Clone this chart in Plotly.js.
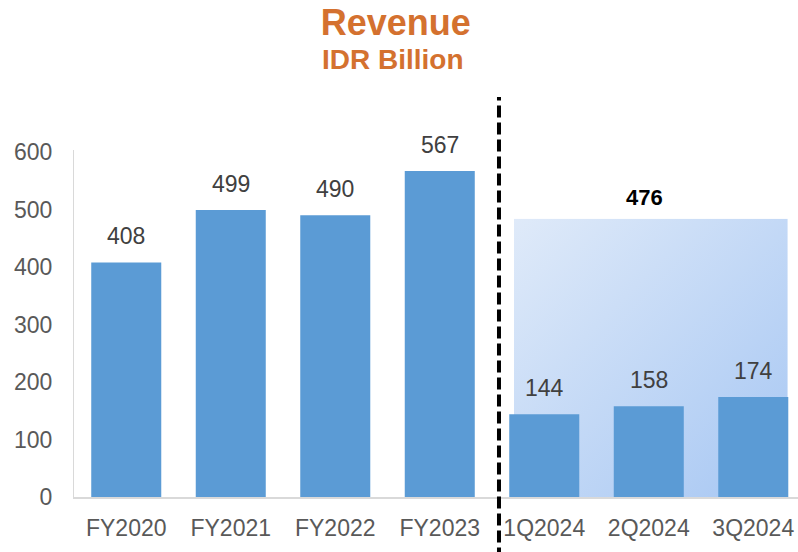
<!DOCTYPE html>
<html>
<head>
<meta charset="utf-8">
<script src="https://cdn.plot.ly/plotly-3.0.1.min.js"></script>
<style>html,body{margin:0;padding:0;background:#fff;}#chart{width:798px;height:552px;}</style>
</head>
<body>
<div id="chart"></div>
<script>
// ---- data ----
const categories = ['FY2020', 'FY2021', 'FY2022', 'FY2023', '1Q2024', '2Q2024', '3Q2024'];
const revenue = [408, 499, 490, 567, 144, 158, 174];
const yTicks = [0, 100, 200, 300, 400, 500, 600];
const quarterCats = ['1Q2024', '2Q2024', '3Q2024'];
const titleText = 'Revenue';
const subtitleText = 'IDR Billion';

// ---- derived ----
const FONT = 'Liberation Sans, Arial, sans-serif';
const xIdx = categories.map((c, i) => i);
const qIdx = quarterCats.map(c => categories.indexOf(c));
const qTotal = qIdx.reduce((s, i) => s + revenue[i], 0);
const qStart = Math.min(...qIdx), qEnd = Math.max(...qIdx);
const boxTop = qTotal + 8;

const svg = '<svg xmlns="http://www.w3.org/2000/svg" width="100" height="100" viewBox="0 0 100 100" preserveAspectRatio="none">' +
  '<defs><linearGradient id="g" x1="0" y1="0" x2="1" y2="1">' +
  '<stop offset="0" stop-color="#dfeaf9"/><stop offset="1" stop-color="#a7c7f3"/>' +
  '</linearGradient></defs><rect width="100" height="100" fill="url(#g)"/></svg>';
const svgSrc = 'data:image/svg+xml;charset=utf-8,' + encodeURIComponent(svg);

const bars = {
  type: 'bar',
  x: xIdx,
  y: revenue,
  width: 0.67,
  marker: { color: '#5B9BD5' },
  hoverinfo: 'skip'
};

const annotations = xIdx.map(i => ({
  x: i, y: revenue[i], xref: 'x', yref: 'y',
  text: String(revenue[i]), showarrow: false,
  yanchor: 'bottom', yshift: 11,
  font: { family: FONT, size: 23, color: '#404040' }
}));
annotations.push({
  x: qIdx[1], y: boxTop, xref: 'x', yref: 'y',
  text: '<b>' + qTotal + '</b>', showarrow: false,
  yanchor: 'bottom', yshift: 7, xshift: -4,
  font: { family: FONT, size: 22, color: '#000000' }
});
annotations.push({
  x: 0.44, y: 1.2594, xref: 'paper', yref: 'paper',
  text: '<b>' + subtitleText + '</b>', showarrow: false,
  xanchor: 'center', yanchor: 'middle',
  font: { family: FONT, size: 28, color: '#D4712F' }
});

const layout = {
  width: 798, height: 552,
  margin: { l: 74, r: 0, t: 150, b: 55 },
  paper_bgcolor: '#ffffff', plot_bgcolor: '#ffffff',
  showlegend: false,
  font: { family: FONT },
  title: {
    text: '<b>' + titleText + '</b>',
    font: { family: FONT, size: 36, color: '#D4712F' },
    xref: 'container', x: 0.496, xanchor: 'center',
    yref: 'container', y: 1 - 22 / 552, yanchor: 'middle'
  },
  xaxis: {
    type: 'linear', range: [-0.5, 6.428],
    tickvals: xIdx, ticktext: categories,
    showline: true, linecolor: '#d9d9d9', linewidth: 2,
    ticks: '', showgrid: false, zeroline: false,
    ticklabelstandoff: 9,
    tickfont: { family: FONT, size: 23, color: '#595959' }
  },
  yaxis: {
    range: [0, 603.5], tickvals: yTicks,
    showline: true, linecolor: '#d9d9d9', linewidth: 1,
    ticks: '', showgrid: false, zeroline: false,
    ticklabelstandoff: 16,
    tickfont: { family: FONT, size: 23, color: '#595959' }
  },
  images: [{
    source: svgSrc, xref: 'x', yref: 'y',
    x: qStart - 0.29, y: boxTop,
    sizex: (qEnd + 0.33) - (qStart - 0.29), sizey: boxTop,
    xanchor: 'left', yanchor: 'top', sizing: 'stretch', layer: 'below'
  }],
  shapes: [{
    type: 'line', xref: 'paper', yref: 'paper',
    x0: 0.587, x1: 0.587, y0: -0.18, y1: 1.153,
    line: { color: '#000000', width: 4, dash: '12px,5px' }
  }],
  annotations: annotations
};

Plotly.newPlot('chart', [bars], layout, { staticPlot: true, displayModeBar: false });
</script>
</body>
</html>
